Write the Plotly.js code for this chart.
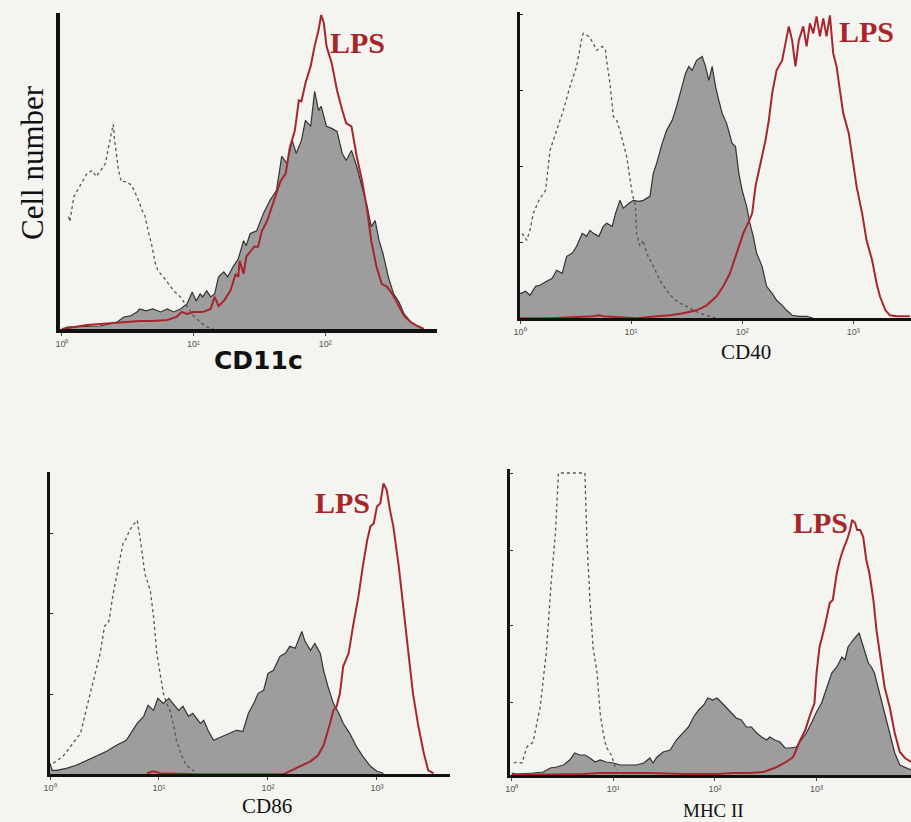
<!DOCTYPE html>
<html>
<head>
<meta charset="utf-8">
<script src="https://cdn.plot.ly/plotly-3.0.1.min.js"></script>
<style>
html,body{margin:0;padding:0;background:#f4f4f0;}
#chart{width:911px;height:822px;}
</style>
</head>
<body>
<div id="chart"></div>
<script>
// ---- Data: x = log10 fluorescence intensity, y = cell count (relative) ----
// Panel CD11c
const cd11c_iso_x = [0.05,0.06,0.09,0.14,0.19,0.23,0.26,0.29,0.33,0.37,0.39,0.40,0.43,0.45,0.49,0.53,0.57,0.61,0.63,0.66,0.68,0.71,0.73,0.77,0.81,0.85,0.90,0.95,1.00,1.05,1.10,1.15];
const cd11c_iso_y = [112,107,132,143,155,158,152,157,165,192,204,188,158,147,147,143,132,118,113,95,85,65,58,52,45,38,32,23,13,7,2,0];
const cd11c_ctrl_x = [0.01,0.04,0.29,0.42,0.47,0.52,0.57,0.59,0.64,0.69,0.75,0.80,0.85,0.90,0.95,0.99,1.02,1.05,1.07,1.10,1.13,1.16,1.19,1.23,1.26,1.30,1.34,1.38,1.40,1.43,1.48,1.53,1.58,1.63,1.67,1.71,1.75,1.78,1.82,1.85,1.89,1.92,1.95,1.97,2.01,2.05,2.09,2.13,2.16,2.20,2.24,2.28,2.32,2.35,2.38,2.41,2.44,2.48,2.52,2.56,2.60,2.65,2.70,2.75];
const cd11c_ctrl_y = [0,2,3,7,12,13,17,20,18,20,17,20,17,20,25,37,28,35,32,38,32,35,52,57,52,62,70,88,83,95,98,115,128,138,172,165,188,175,188,208,202,237,218,222,202,200,197,175,168,178,162,142,122,102,108,88,75,52,35,27,15,7,3,0];
const cd11c_lps_x = [0.00,0.09,0.19,0.29,0.39,0.49,0.59,0.69,0.80,0.87,0.91,0.95,1.00,1.07,1.13,1.16,1.19,1.23,1.28,1.32,1.34,1.35,1.38,1.40,1.46,1.49,1.52,1.56,1.59,1.63,1.66,1.70,1.73,1.77,1.80,1.82,1.85,1.89,1.92,1.95,1.97,1.99,2.01,2.05,2.09,2.13,2.16,2.20,2.24,2.28,2.32,2.35,2.39,2.43,2.47,2.51,2.55,2.60,2.65,2.70,2.75];
const cd11c_lps_y = [0,2,4,5,6,7,8,8,9,12,17,15,17,17,20,32,23,28,38,55,52,68,55,72,82,82,98,108,120,135,147,155,180,198,228,227,245,262,282,298,313,305,282,265,238,218,205,202,172,148,118,88,62,45,42,35,25,13,7,3,0];

// Panel CD40
const cd40_iso_x = [0.02,0.06,0.09,0.12,0.17,0.23,0.27,0.33,0.39,0.45,0.51,0.56,0.57,0.62,0.66,0.69,0.74,0.77,0.78,0.81,0.84,0.87,0.90,0.93,0.96,1.01,1.04,1.05,1.08,1.11,1.14,1.20,1.26,1.32,1.38,1.44,1.50,1.56,1.62,1.71,1.77];
const cd40_iso_y = [85,78,88,105,118,128,168,188,208,232,252,282,285,282,275,268,272,268,258,235,202,198,188,175,162,125,112,85,72,78,65,52,38,28,20,15,12,8,5,2,0];
const cd40_ctrl_x = [0.00,0.01,0.05,0.09,0.14,0.18,0.24,0.29,0.33,0.38,0.42,0.47,0.51,0.56,0.60,0.63,0.66,0.71,0.75,0.78,0.83,0.86,0.90,0.93,0.98,1.02,1.07,1.11,1.17,1.20,1.23,1.28,1.32,1.37,1.41,1.44,1.49,1.52,1.55,1.59,1.64,1.67,1.70,1.73,1.76,1.79,1.82,1.86,1.91,1.94,1.97,2.00,2.04,2.07,2.10,2.13,2.18,2.22,2.27,2.31,2.36,2.40,2.45,2.51,2.58,2.64];
const cd40_ctrl_y = [25,25,27,23,32,33,37,40,48,45,62,65,72,85,82,88,85,82,92,95,92,105,118,110,115,118,117,118,122,145,155,175,188,198,212,225,245,252,248,258,262,252,238,252,232,218,205,195,175,172,145,128,112,95,82,65,52,32,25,18,13,8,3,2,2,0];
const cd40_lps_x = [0.00,0.27,0.66,0.71,0.75,0.93,1.05,1.23,1.35,1.47,1.59,1.68,1.77,1.83,1.89,1.95,2.01,2.06,2.09,2.12,2.16,2.21,2.24,2.27,2.31,2.36,2.39,2.42,2.45,2.48,2.51,2.55,2.58,2.61,2.64,2.67,2.70,2.73,2.76,2.79,2.82,2.85,2.88,2.91,2.96,3.00,3.03,3.08,3.12,3.17,3.21,3.24,3.29,3.33,3.39,3.51];
const cd40_lps_y = [0,0,2,3,2,1,0,2,3,5,8,13,22,32,45,65,85,97,105,132,152,178,198,225,248,258,275,292,278,252,278,292,272,295,285,302,282,300,282,303,265,252,228,205,185,155,132,105,78,58,35,22,8,3,2,2];

// Panel CD86
const cd86_iso_x = [0.03,0.12,0.21,0.28,0.34,0.40,0.46,0.50,0.54,0.58,0.63,0.67,0.70,0.73,0.76,0.80,0.83,0.87,0.92,0.95,0.98,1.01,1.04,1.07,1.10,1.13,1.16,1.21,1.25,1.31,1.35];
const cd86_iso_y = [11,18,31,41,68,94,121,148,153,181,208,231,236,244,249,254,234,201,184,158,121,101,81,71,64,51,34,18,9,4,1];
const cd86_ctrl_x = [0.00,0.02,0.06,0.15,0.24,0.34,0.43,0.52,0.61,0.70,0.80,0.86,0.90,0.95,0.99,1.04,1.09,1.13,1.18,1.22,1.27,1.31,1.38,1.41,1.45,1.50,1.54,1.59,1.65,1.71,1.77,1.82,1.87,1.91,1.96,2.00,2.05,2.11,2.16,2.20,2.25,2.28,2.31,2.34,2.39,2.43,2.48,2.51,2.55,2.60,2.65,2.69,2.75,2.81,2.87,2.94,3.00,3.06];
const cd86_ctrl_y = [11,4,4,6,9,14,19,23,29,34,51,58,69,64,76,71,76,71,64,68,58,61,51,54,44,34,36,38,41,44,43,61,71,81,84,101,104,118,121,128,126,134,143,133,124,131,121,104,88,71,61,51,41,28,18,8,3,1];
const cd86_lps_x = [0.89,0.95,1.01,1.38,2.14,2.20,2.29,2.39,2.46,2.51,2.57,2.60,2.63,2.66,2.69,2.74,2.78,2.83,2.87,2.91,2.94,2.97,3.00,3.03,3.06,3.09,3.12,3.15,3.20,3.24,3.29,3.33,3.38,3.43,3.47,3.52];
const cd86_lps_y = [1,3,1,0,0,3,8,13,19,29,51,64,68,81,108,121,148,178,208,234,248,251,268,271,291,284,264,248,208,168,121,81,48,21,4,1];

// Panel MHC II
const mhc_iso_x = [0.02,0.05,0.10,0.15,0.21,0.28,0.34,0.39,0.43,0.46,0.72,0.74,0.77,0.80,0.84,0.87,0.90,0.93,0.98,1.03];
const mhc_iso_y = [12,13,12,28,33,68,122,195,242,302,302,235,175,128,102,62,42,28,20,5];
const mhc_ctrl_x = [0.00,0.05,0.21,0.31,0.38,0.44,0.51,0.57,0.62,0.67,0.72,0.77,0.82,0.87,0.93,1.00,1.07,1.13,1.23,1.30,1.36,1.39,1.43,1.49,1.56,1.62,1.69,1.74,1.79,1.84,1.89,1.93,1.98,2.02,2.07,2.11,2.16,2.21,2.26,2.31,2.36,2.41,2.46,2.51,2.54,2.59,2.64,2.69,2.74,2.80,2.85,2.90,2.95,3.00,3.05,3.10,3.15,3.20,3.25,3.28,3.31,3.36,3.39,3.42,3.44,3.48,3.51,3.54,3.57,3.62,3.67,3.72,3.77,3.82,3.89,3.93];
const mhc_ctrl_y = [2,1,2,3,7,8,10,15,22,20,20,17,13,15,13,12,10,10,10,12,17,12,18,23,25,35,42,48,58,65,70,77,75,77,72,68,62,57,55,48,48,42,38,35,38,35,33,27,27,28,35,42,52,63,72,88,102,108,118,115,128,135,138,142,135,122,112,108,102,82,62,42,22,10,7,5];
const mhc_lps_x = [0.00,0.70,0.87,0.97,1.10,1.36,1.69,2.02,2.18,2.34,2.48,2.61,2.70,2.77,2.84,2.89,2.93,2.98,3.00,3.03,3.08,3.13,3.16,3.20,3.23,3.26,3.30,3.33,3.35,3.38,3.40,3.43,3.46,3.49,3.52,3.56,3.59,3.64,3.67,3.72,3.77,3.82,3.87,3.93];
const mhc_lps_y = [0,1,2,2,2,2,1,1,2,2,3,8,13,18,35,45,58,72,102,128,148,172,175,202,215,225,235,245,255,252,245,245,238,215,202,175,145,108,88,68,42,23,17,13];

// Labels
const markerNames = ['CD11c', 'CD40', 'CD86', 'MHC II'];
const lpsLabel = 'LPS';
const yTitle = 'Cell number';
const decadeVals = [0, 1, 2, 3];
const decadeText = ['10\u2070', '10\u00B9', '10\u00B2', '10\u00B3'];

// ---- Styles ----
const RED = '#a8262b';
const FILL = 'rgba(148,148,148,0.9)';
const OUT = '#333333';
const ISO = '#555555';
const SERIF = '"Liberation Serif", "Times New Roman", serif';

const panels = [
  {iso:[cd11c_iso_x,cd11c_iso_y], ctrl:[cd11c_ctrl_x,cd11c_ctrl_y], lps:[cd11c_lps_x,cd11c_lps_y]},
  {iso:[cd40_iso_x,cd40_iso_y], ctrl:[cd40_ctrl_x,cd40_ctrl_y], lps:[cd40_lps_x,cd40_lps_y]},
  {iso:[cd86_iso_x,cd86_iso_y], ctrl:[cd86_ctrl_x,cd86_ctrl_y], lps:[cd86_lps_x,cd86_lps_y]},
  {iso:[mhc_iso_x,mhc_iso_y], ctrl:[mhc_ctrl_x,mhc_ctrl_y], lps:[mhc_lps_x,mhc_lps_y]}
];

const traces = [];
panels.forEach((p, i) => {
  const xa = i === 0 ? 'x' : 'x' + (i + 1);
  const ya = i === 0 ? 'y' : 'y' + (i + 1);
  traces.push({x:p.ctrl[0], y:p.ctrl[1], xaxis:xa, yaxis:ya, type:'scatter', mode:'lines',
    fill:'tozeroy', fillcolor:FILL, line:{color:OUT, width:1.2}, name:markerNames[i] + ' control', showlegend:false});
  traces.push({x:p.iso[0], y:p.iso[1], xaxis:xa, yaxis:ya, type:'scatter', mode:'lines',
    line:{color:ISO, width:1.3, dash:'dot'}, name:'isotype', showlegend:false});
  traces.push({x:p.lps[0], y:p.lps[1], xaxis:xa, yaxis:ya, type:'scatter', mode:'lines',
    line:{color:RED, width:2}, name:lpsLabel, showlegend:false});
});

const W = 911, H = 822;
function xd(a, b) { return [a / W, Math.min(1, b / W)]; }
function yd(bottom, top) { return [1 - bottom / H, 1 - top / H]; }

function xaxisCfg(dom, rng, anchor, lw) {
  return {domain:dom, range:rng, anchor:anchor, showgrid:false, zeroline:false,
    showline:true, linecolor:'#111', linewidth:lw,
    tickmode:'array', tickvals:decadeVals, ticktext:decadeText,
    ticks:'outside', ticklen:3, tickcolor:'#444', tickwidth:1,
    tickfont:{family:'"Liberation Sans", Arial, sans-serif', size:9, color:'#555'}, fixedrange:true};
}
function yaxisCfg(dom, rng, anchor, lw, tv) {
  return {domain:dom, range:rng, anchor:anchor, showgrid:false, zeroline:false,
    showline:true, linecolor:'#111', linewidth:lw,
    tickmode:'array', tickvals:tv, ticks:tv.length ? 'inside' : '', ticklen:3, tickcolor:'#222',
    showticklabels:false, fixedrange:true};
}

const layout = {
  width:W, height:H,
  margin:{l:0, r:0, t:0, b:0},
  paper_bgcolor:'#f4f4f0', plot_bgcolor:'rgba(0,0,0,0)',
  showlegend:false,
  xaxis: xaxisCfg(xd(60, 437), [-0.015, 2.85], 'y', 4),
  yaxis: yaxisCfg(yd(329, 13), [0, 315], 'x', 4, []),
  xaxis2: xaxisCfg(xd(520, 911), [0, 3.52], 'y2', 3),
  yaxis2: yaxisCfg(yd(318.3, 11.7), [0, 306.7], 'x2', 3, [76, 152, 228, 304]),
  xaxis3: xaxisCfg(xd(50, 450), [0, 3.67], 'y3', 3),
  yaxis3: yaxisCfg(yd(774.3, 471.7), [0, 302.7], 'x3', 3, [80, 161, 241]),
  xaxis4: xaxisCfg(xd(510, 911), [-0.017, 3.93], 'y4', 3),
  yaxis4: yaxisCfg(yd(775, 469.3), [0, 305.7], 'x4', 3, [73, 150, 225, 302]),
  annotations: [
    {text:lpsLabel, xref:'paper', yref:'paper', x:357/W, y:1-43/H, showarrow:false, xanchor:'center', yanchor:'middle',
     font:{family:SERIF, size:30, color:RED, weight:600}},
    {text:lpsLabel, xref:'paper', yref:'paper', x:866/W, y:1-31/H, showarrow:false, xanchor:'center', yanchor:'middle',
     font:{family:SERIF, size:30, color:RED, weight:600}},
    {text:'<b>' + lpsLabel + '</b>', xref:'paper', yref:'paper', x:342/W, y:1-502/H, showarrow:false, xanchor:'center', yanchor:'middle',
     font:{family:SERIF, size:30, color:RED}},
    {text:'<b>' + lpsLabel + '</b>', xref:'paper', yref:'paper', x:820/W, y:1-522/H, showarrow:false, xanchor:'center', yanchor:'middle',
     font:{family:SERIF, size:30, color:RED}},
    {text:'<b>' + markerNames[0] + '</b>', xref:'paper', yref:'paper', x:258/W, y:1-360/H, showarrow:false, xanchor:'center', yanchor:'middle',
     font:{family:'"DejaVu Sans", Verdana, sans-serif', size:25, color:'#111'}},
    {text:markerNames[1], xref:'paper', yref:'paper', x:746/W, y:1-352/H, showarrow:false, xanchor:'center', yanchor:'middle',
     font:{family:SERIF, size:21, color:'#111'}},
    {text:markerNames[2], xref:'paper', yref:'paper', x:267/W, y:1-806/H, showarrow:false, xanchor:'center', yanchor:'middle',
     font:{family:SERIF, size:21, color:'#111'}},
    {text:markerNames[3], xref:'paper', yref:'paper', x:713/W, y:1-810/H, showarrow:false, xanchor:'center', yanchor:'middle',
     font:{family:SERIF, size:19, color:'#111'}},
    {text:yTitle, xref:'paper', yref:'paper', x:32/W, y:1-163/H, showarrow:false, textangle:-90, xanchor:'center', yanchor:'middle',
     font:{family:SERIF, size:31, color:'#111'}}
  ]
};

Plotly.newPlot('chart', traces, layout, {staticPlot:true, displayModeBar:false});
</script>
</body>
</html>
